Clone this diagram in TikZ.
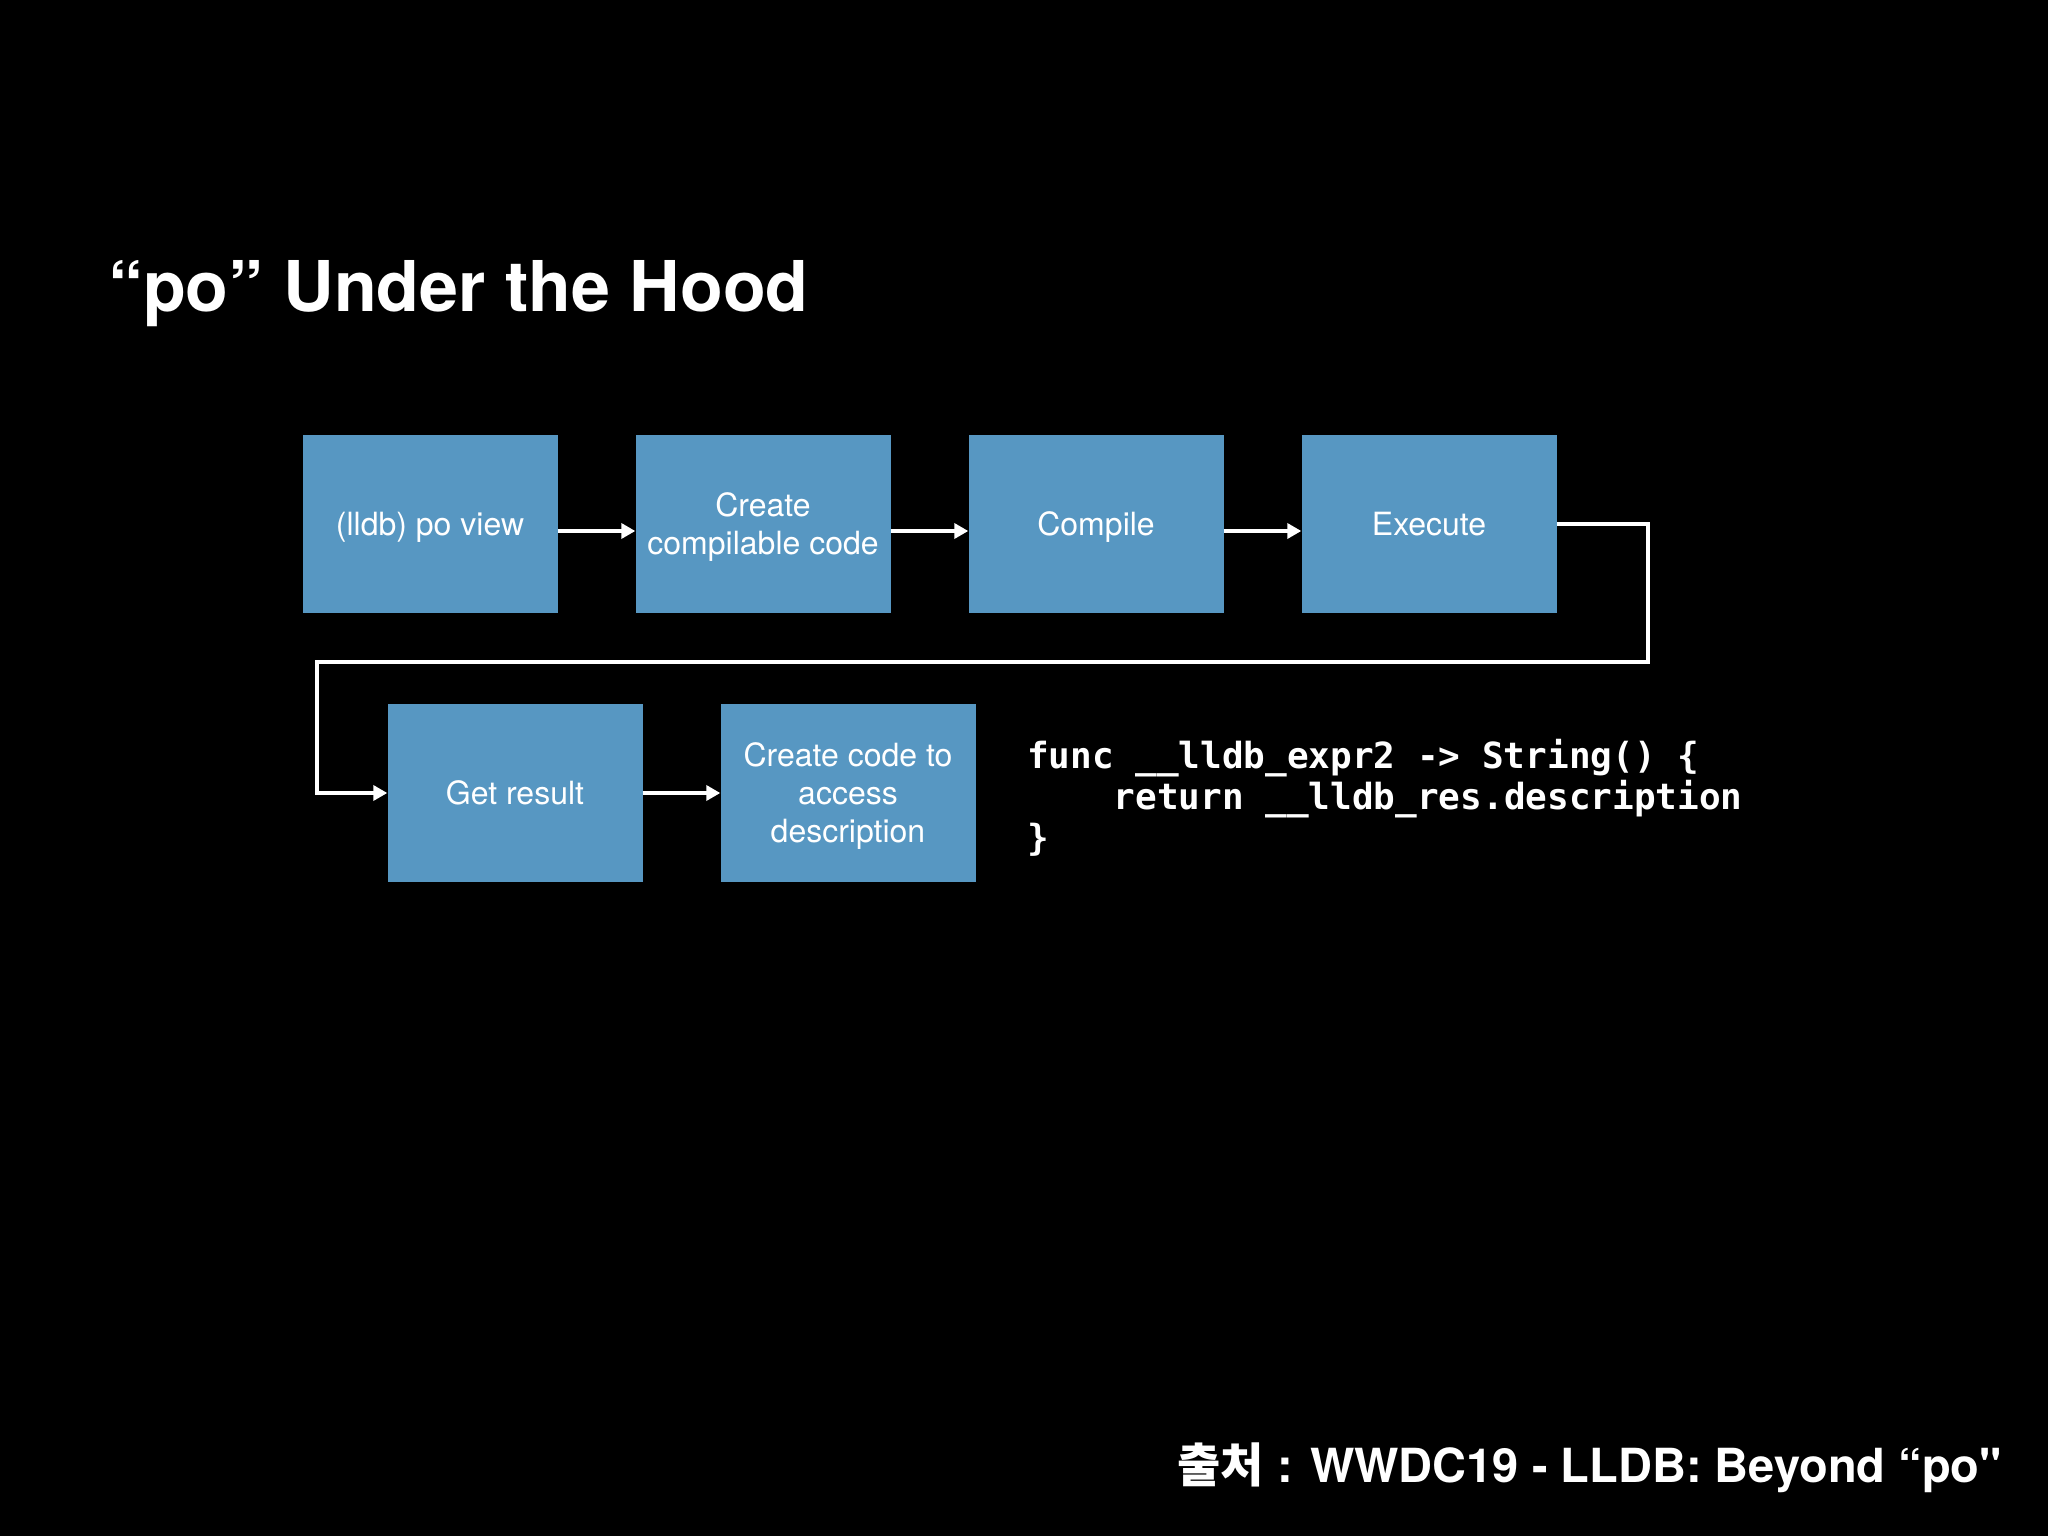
\documentclass[tikz,border=0pt]{standalone}
\usepackage{fontspec}
\setmainfont{TeX Gyre Heros}
\newfontfamily\codefont{DejaVu Sans Mono}
\newfontfamily\krfont{Noto Sans CJK KR}
\usetikzlibrary{positioning,arrows.meta}

\definecolor{boxblue}{RGB}{87,151,194}

\begin{document}
\begin{tikzpicture}[
      x=1pt, y=-1pt,
      stage/.style={fill=boxblue, text=white, align=center, inner sep=4pt, text depth=0pt,
        minimum width=255pt, minimum height=178pt, font=\fontsize{32}{38}\selectfont},
      ar/.style={-{Triangle[length=14pt,width=15pt]}, draw=white, line width=3.6pt},
      ttl/.style={text=white, inner sep=0pt, font=\fontsize{70}{80}\selectfont\bfseries},
      code/.style={text=white, inner sep=0pt, align=left, font=\codefont\bfseries\fontsize{36}{41}\selectfont}
    ]
    % ===== slide background =====
    \fill[black] (0,0) rectangle (2048,1536);
    \useasboundingbox (0,0) rectangle (2048,1536);

    % ===== title =====
    \node[ttl, anchor=base west] (title) at (108,311) {“po” Under the Hood};

    % ===== first row =====
    \node[stage] (po)    at (430,524)  {(lldb) po view};
    \node[stage] (mk)    at (763,524)  {Create\\compilable code};
    \node[stage] (comp)  at (1096,524) {Compile};
    \node[stage] (exe)   at (1429,524) {Execute};
    \draw[ar] ([yshift=-7pt]po.east) -- ([yshift=-7pt]mk.west);
    \draw[ar] ([yshift=-7pt]mk.east) -- ([yshift=-7pt]comp.west);
    \draw[ar] ([yshift=-7pt]comp.east) -- ([yshift=-7pt]exe.west);

    % ===== second row =====
    \node[stage] (res)   at (515,793)  {Get result};
    \node[stage] (desc)  at (848,793)  {Create code to\\access\\description};
    \draw[ar] (res) -- (desc);

    % wrap-around from Execute to Get result
    \coordinate (turnR) at (1648,662);
    \coordinate (turnL) at (317,662);
    \draw[ar] (exe.east) -| (turnR) -- (turnL) |- (res.west);

    % ===== generated code =====
    \node[code, anchor=west] (src) at (1027,798)
      {func \_\_lldb\_expr2 -> String() \{\\
       \phantom{func}return \_\_lldb\_res.description\\
       \}};

    % source note
    \node[ttl, anchor=base east, font=\fontsize{47}{56}\selectfont\bfseries] (note) at (2002,1482)
      {{\krfont\bfseries 출처} : WWDC19 - LLDB: Beyond “po\textquotedbl};
\end{tikzpicture}
\end{document}
